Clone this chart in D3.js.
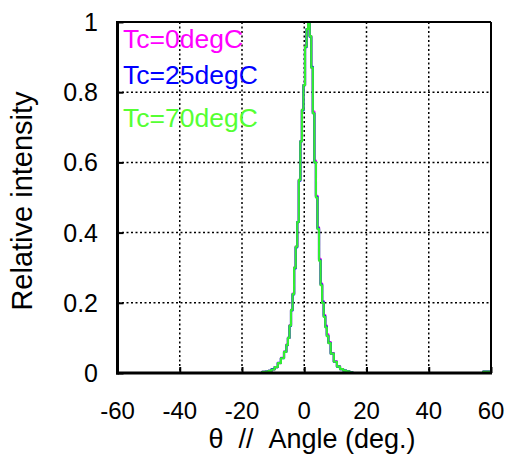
<!DOCTYPE html>
<html><head><meta charset="utf-8">
<script src="https://cdn.jsdelivr.net/npm/d3@7"></script>
<style>body{margin:0;background:#fff}svg{display:block}text{font-family:"Liberation Sans",Arial,sans-serif}</style>
</head><body><svg id="c" width="513" height="468"></svg>
<script>
const angles = [-60,-14,-13,-12,-11,-10,-9,-8,-7,-6,-5.5,-5,-4.5,-4,-3.5,-3,-2.5,-2,-1.5,-1,-0.5,0,0.5,1,1.5,2,2.5,3,3.5,4,4.5,5,5.5,6,6.5,7,7.5,8,9,10,11,12,13,14,15,16,57,58,60];
const tc0  = [0,0,0.003,0.004,0.006,0.01,0.017,0.028,0.043,0.061,0.081,0.10,0.136,0.18,0.226,0.30,0.36,0.43,0.55,0.66,0.75,0.82,0.93,0.98,1.0,0.96,0.87,0.745,0.605,0.505,0.415,0.325,0.255,0.205,0.165,0.135,0.11,0.088,0.057,0.033,0.019,0.011,0.007,0.005,0.002,0,0,0.004,0.004];
const tc25 = [0,0,0.003,0.004,0.006,0.011,0.017,0.029,0.042,0.06,0.079,0.10,0.134,0.178,0.224,0.298,0.358,0.43,0.548,0.66,0.748,0.82,0.928,0.98,1.0,0.958,0.872,0.74,0.6,0.502,0.412,0.322,0.252,0.202,0.162,0.132,0.106,0.086,0.055,0.032,0.018,0.011,0.007,0.005,0.002,0,0,0.004,0.004];
const tc70 = [0,0,0.003,0.004,0.006,0.01,0.017,0.028,0.042,0.06,0.08,0.10,0.135,0.18,0.225,0.30,0.36,0.43,0.55,0.66,0.75,0.82,0.93,0.98,1.0,0.96,0.87,0.74,0.6,0.5,0.41,0.32,0.25,0.2,0.16,0.13,0.105,0.085,0.055,0.032,0.018,0.011,0.007,0.005,0.002,0,0,0.004,0.004];
const seriesNames = ["Tc=0degC","Tc=25degC","Tc=70degC"];
const seriesColors = ["#ff00ff","#0000ff","#33ee33"];
const labelColors = ["#ff00ff","#0000ff","#55ff33"];
const xTicks = [-60,-40,-20,0,20,40,60];
const yTicks = [0,0.2,0.4,0.6,0.8,1];

const svg = d3.select("#c");
const L=117.5,R=491,T=22,B=373;
const x = d3.scaleLinear().domain([-60,60]).range([L,R]);
const y = d3.scaleLinear().domain([0,1]).range([B,T]);

// grid
const g = svg.append("g");
g.selectAll(".vg").data(xTicks.slice(1,-1)).enter().append("line")
 .attr("x1",d=>x(d)).attr("x2",d=>x(d)).attr("y1",T).attr("y2",B)
 .attr("stroke","#000").attr("stroke-width",1.5).attr("stroke-dasharray","2,2.5");
g.selectAll(".hg").data(yTicks.slice(1,-1)).enter().append("line")
 .attr("y1",d=>y(d)).attr("y2",d=>y(d)).attr("x1",L).attr("x2",R)
 .attr("stroke","#000").attr("stroke-width",1.5).attr("stroke-dasharray","2,2.5");

// lines
const line = d3.line().x((d,i)=>x(angles[i])).y(d=>y(d)).curve(d3.curveStep);
[tc0,tc25,tc70].forEach((s,i)=>{
  svg.append("path").attr("d",line(s)).attr("fill","none")
   .attr("stroke",seriesColors[i]).attr("stroke-width",2.2).attr("stroke-linejoin","round");
});

// frame
svg.append("line").attr("x1",L).attr("x2",R).attr("y1",T).attr("y2",T).attr("stroke","#000").attr("stroke-width",2);
svg.append("line").attr("x1",R).attr("x2",R).attr("y1",T).attr("y2",B).attr("stroke","#000").attr("stroke-width",2);
svg.append("line").attr("x1",L).attr("x2",L).attr("y1",T-1).attr("y2",B+1.5).attr("stroke","#000").attr("stroke-width",3);
svg.append("line").attr("x1",L-1.5).attr("x2",R+1).attr("y1",B).attr("y2",B).attr("stroke","#000").attr("stroke-width",3);

// axes via d3
const xAxis = svg.append("g").attr("transform",`translate(0,${B})`)
 .call(d3.axisTop(x).tickValues(xTicks).tickSize(6).tickFormat(""));
xAxis.select(".domain").remove();
xAxis.selectAll("line").attr("stroke-width",2);
const yAxis = svg.append("g").attr("transform",`translate(${L},0)`)
 .call(d3.axisRight(y).tickValues(yTicks).tickSize(6).tickFormat(""));
yAxis.select(".domain").remove();
yAxis.selectAll("line").attr("stroke-width",2);

// tick labels
svg.selectAll(".xl").data(xTicks).enter().append("text")
 .attr("x",d=>x(d)).attr("y",419).attr("text-anchor","middle")
 .attr("font-size",24).text(d=>d);
svg.selectAll(".yl").data(yTicks).enter().append("text")
 .attr("x",98).attr("y",d=>y(d)+9).attr("text-anchor","end")
 .attr("font-size",25).text(d=>d);

// axis titles
svg.append("text").attr("x",312).attr("y",448).attr("text-anchor","middle")
 .attr("font-size",27).attr("xml:space","preserve").text("θ  //  Angle (deg.)");
svg.append("text").attr("transform","translate(32,201) rotate(-90)").attr("text-anchor","middle")
 .attr("font-size",29).text("Relative intensity");

// legend labels
const legY=[48,84,127];
seriesNames.forEach((n,i)=>{
  svg.append("text").attr("x",123).attr("y",legY[i]).attr("font-size",26.5)
   .attr("fill",labelColors[i]).text(n);
});
</script></body></html>
